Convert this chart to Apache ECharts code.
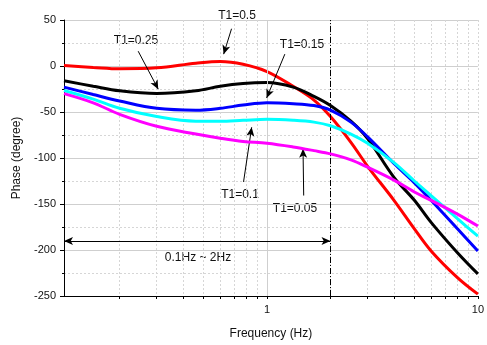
<!DOCTYPE html>
<html>
<head>
<meta charset="utf-8">
<script src="https://cdn.jsdelivr.net/npm/echarts@6/dist/echarts.min.js"></script>
<style>
  html, body { margin: 0; padding: 0; background: #fff; }
  #chart { width: 487px; height: 345px; }
</style>
</head>
<body>
<div id="chart"></div>
<script>
// frequency (Hz), log axis
var freq = [0.109, 0.15, 0.2, 0.3, 0.46, 0.6, 0.77, 1, 1.33, 1.67, 2, 2.5, 3, 4, 5, 6, 8, 10];
// phase (degree) for each T1
var phaseT050 = [0.5, -1.5, -3, -2, 3, 5, 2, -6, -22, -37, -55, -83, -109, -146, -177, -201, -230, -248];
var phaseT025 = [-16, -22, -27, -30, -27, -22, -19, -18, -23, -33, -43, -60, -79, -121, -146, -170, -203, -226];
var phaseT015 = [-23, -31, -38, -46, -48, -46, -42.5, -40, -41, -43, -48, -61, -77, -106, -127, -146, -177, -201];
var phaseT010 = [-26.6, -36, -46, -55, -60, -60, -59, -58, -59, -61, -65, -74, -84, -105, -125, -141, -166, -185];
var phaseT005 = [-30, -40, -52.5, -65.5, -74, -78.5, -82, -84, -88, -92, -95.5, -102, -110, -124, -137, -146, -161, -174];

var seriesNames = ["T1=0.5", "T1=0.25", "T1=0.15", "T1=0.1", "T1=0.05"];
var seriesColors = ["#ff0000", "#000000", "#0000ff", "#00ffff", "#ff00ff"];
var seriesValues = [phaseT050, phaseT025, phaseT015, phaseT010, phaseT005];

// axis ticks
var xTickValues = [0.2, 0.3, 0.4, 0.5, 0.6, 0.7, 0.8, 0.9, 1, 2, 3, 4, 5, 6, 7, 8, 9, 10];
var xLabelValues = [1, 10];
var xMin = 0.109, xMax = 10;
var yMin = -250, yMax = 50, yStep = 50;

// annotation arrows [from, to] in (Hz, degree)
var arrows = [
  [[0.679, 40.5], [0.623, 12.9]],
  [[0.245, 16.1], [0.305, -25.2]],
  [[1.215, 12.9], [0.996, -34.8]],
  [[0.774, -126], [0.846, -66.6]],
  [[1.493, -140.8], [1.482, -89.9]]
];
var bandStart = 0.109, bandEnd = 2, bandLevel = -190.3;

var font = "'Liberation Sans', Arial, sans-serif";

function pairs(ys) {
  return freq.map(function (f, i) { return [f, ys[i]]; });
}

var series = seriesValues.map(function (vals, i) {
  return {
    name: seriesNames[i],
    type: "line",
    data: pairs(vals),
    smooth: 0.35,
    symbol: "none",
    lineStyle: { color: seriesColors[i], width: 3 },
    z: 3 + i
  };
});

// major grid line at 1 Hz
series.push({
  type: "line",
  data: [],
  silent: true,
  markLine: {
    silent: true,
    symbol: "none",
    label: { show: false },
    lineStyle: { color: "#cfcfcf", width: 1, type: "solid" },
    data: [{ xAxis: 1 }]
  },
  z: 1
});

// 2 Hz dash-dot boundary
series.push({
  type: "line",
  data: [],
  silent: true,
  markLine: {
    silent: true,
    symbol: "none",
    label: { show: false },
    lineStyle: { color: "#000", width: 1, type: [6, 2, 1, 2] },
    data: [{ xAxis: bandEnd }]
  },
  z: 9
});

// single arrows pointing to curves
series.push({
  type: "line",
  data: [],
  silent: true,
  markLine: {
    silent: true,
    symbol: ["none", "arrow"],
    symbolSize: [6, 9],
    label: { show: false },
    lineStyle: { color: "#000", width: 1, type: "solid" },
    data: arrows.map(function (a) {
      return [{ coord: a[0] }, { coord: a[1] }];
    })
  },
  z: 10
});

// 0.1Hz ~ 2Hz span arrow
series.push({
  type: "line",
  data: [],
  silent: true,
  markLine: {
    silent: true,
    symbol: ["arrow", "arrow"],
    symbolSize: [6, 9],
    label: { show: false },
    lineStyle: { color: "#000", width: 1, type: "solid" },
    data: [[{ coord: [bandStart, bandLevel] }, { coord: [bandEnd, bandLevel] }]]
  },
  z: 10
});

var chart = echarts.init(document.getElementById("chart"));
chart.setOption({
  animation: false,
  backgroundColor: "#fff",
  grid: { left: 64, right: 6, top: 20, bottom: 42 },
  xAxis: {
    type: "log",
    logBase: 10,
    min: xMin,
    max: xMax,
    name: "Frequency (Hz)",
    nameLocation: "middle",
    nameGap: 32,
    nameTextStyle: { color: "#111", fontSize: 12, fontFamily: font },
    axisLine: { show: true, onZero: false, lineStyle: { color: "#000", width: 1 } },
    axisTick: { show: true, inside: false, length: 3, customValues: xTickValues, lineStyle: { color: "#000" } },
    axisLabel: {
      customValues: xLabelValues,
      color: "#111",
      fontSize: 11,
      fontFamily: font,
      margin: 8,
      formatter: function (v) { return String(v); }
    },
    splitLine: { show: true, lineStyle: { color: "#d6d6d6", width: 1, type: [2, 2] } },
    minorTick: { show: false }
  },
  yAxis: {
    type: "value",
    min: yMin,
    max: yMax,
    interval: yStep,
    name: "Phase (degree)",
    nameLocation: "middle",
    nameGap: 38,
    nameTextStyle: { color: "#111", fontSize: 12, fontFamily: font },
    axisLine: { show: true, lineStyle: { color: "#000", width: 1 } },
    axisTick: { show: true, inside: false, length: 4, lineStyle: { color: "#000" } },
    minorTick: { show: true, splitNumber: 2, length: 2, lineStyle: { color: "#000" } },
    axisLabel: { color: "#111", fontSize: 11, fontFamily: font, margin: 8 },
    splitLine: { show: true, lineStyle: { color: "#cfcfcf", width: 1, type: "solid" } },
    minorSplitLine: { show: true, lineStyle: { color: "#d6d6d6", width: 1, type: [2, 2] } }
  },
  graphic: [
    { type: "text", x: 237, y: 16, style: { text: "T1=0.5", font: "12px " + font, fill: "#111", align: "center", verticalAlign: "middle" } },
    { type: "text", x: 136, y: 41, style: { text: "T1=0.25", font: "12px " + font, fill: "#111", align: "center", verticalAlign: "middle" } },
    { type: "text", x: 302, y: 45, style: { text: "T1=0.15", font: "12px " + font, fill: "#111", align: "center", verticalAlign: "middle" } },
    { type: "text", x: 240, y: 195, style: { text: "T1=0.1", font: "12px " + font, fill: "#111", align: "center", verticalAlign: "middle" } },
    { type: "text", x: 295, y: 209, style: { text: "T1=0.05", font: "12px " + font, fill: "#111", align: "center", verticalAlign: "middle" } },
    { type: "text", x: 198, y: 258, style: { text: "0.1Hz ~ 2Hz", font: "12px " + font, fill: "#111", align: "center", verticalAlign: "middle" } }
  ],
  series: series
});
</script>
</body>
</html>
